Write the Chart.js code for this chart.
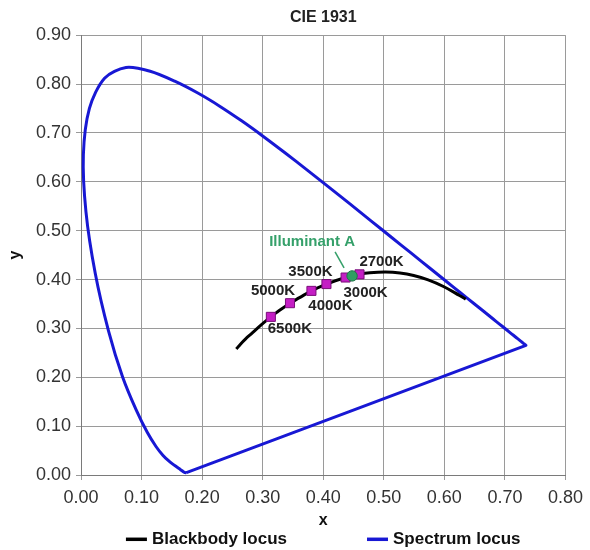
<!DOCTYPE html>
<html><head><meta charset="utf-8">
<script src="https://cdn.jsdelivr.net/npm/chart.js@4/dist/chart.umd.min.js"></script>
<style>html,body{margin:0;padding:0;background:#fff}#wrap{width:590px;height:550px;position:relative}</style>
</head><body><div id="wrap"><canvas id="c"></canvas></div>
<script>
// ---- Data ----
const spectrumX = [0.1741,0.1740,0.1738,0.1736,0.1733,0.1730,0.1726,0.1721,0.1714,0.1703,0.1689,0.1669,0.1644,0.1611,0.1566,0.1510,0.1440,0.1355,0.1241,0.1096,0.0913,0.0687,0.0454,0.0235,0.0082,0.0039,0.0139,0.0389,0.0743,0.1142,0.1547,0.1929,0.2296,0.2658,0.3016,0.3373,0.3731,0.4087,0.4441,0.4788,0.5125,0.5448,0.5752,0.6029,0.6270,0.6482,0.6658,0.6801,0.6915,0.7006,0.7079,0.7140,0.7190,0.7230,0.7260,0.7283,0.7300,0.7311,0.7320,0.7334,0.7344,0.7347,0.1741];
const spectrumY = [0.0050,0.0050,0.0049,0.0049,0.0048,0.0048,0.0048,0.0048,0.0051,0.0058,0.0069,0.0086,0.0109,0.0138,0.0177,0.0227,0.0297,0.0399,0.0578,0.0868,0.1327,0.2007,0.2950,0.4127,0.5384,0.6548,0.7502,0.8120,0.8338,0.8262,0.8059,0.7816,0.7543,0.7243,0.6923,0.6589,0.6245,0.5896,0.5547,0.5202,0.4866,0.4544,0.4242,0.3965,0.3725,0.3514,0.3340,0.3197,0.3083,0.2993,0.2920,0.2859,0.2809,0.2770,0.2740,0.2717,0.2700,0.2689,0.2680,0.2666,0.2656,0.2653,0.0050];

const blackbodyX = [0.2565,0.2637,0.2719,0.2807,0.2952,0.3064,0.3135,0.3221,0.3451,0.3609,0.3805,0.4053,0.4369,0.4599,0.4770,0.5030,0.5267,0.5493,0.5732,0.5985,0.6251,0.6353];
const blackbodyY = [0.2577,0.2683,0.2786,0.2884,0.3048,0.3166,0.3236,0.3318,0.3516,0.3629,0.3768,0.3907,0.4041,0.4106,0.4137,0.4152,0.4133,0.4082,0.3993,0.3858,0.3674,0.3598];

const markerLabels = ['6500K','5000K','4000K','3500K','3000K','2700K'];
const markerX = [0.3135,0.3451,0.3805,0.4053,0.4369,0.4599];
const markerY = [0.3236,0.3516,0.3768,0.3907,0.4041,0.4106];

const illuminantLabel = 'Illuminant A';
const illuminantX = [0.4476];
const illuminantY = [0.4074];

const xTickLabels = ['0.00','0.10','0.20','0.30','0.40','0.50','0.60','0.70','0.80'];
const yTickLabels = ['0.00','0.10','0.20','0.30','0.40','0.50','0.60','0.70','0.80','0.90'];

const legendLabels = ['Blackbody locus','Spectrum locus'];

// ---- Styles / placement (kept apart from data) ----
const FONT = "'Liberation Sans', Arial, Helvetica, sans-serif";
const BLUE = '#1818d4';
const GREEN = '#35a06a';
const markerLabelOffsets = [[19,12],[-17,-12],[19,15],[-16,-12.5],[20,15],[22,-12]];
const illumLabelOffset = [-40,-34];
const illumLeader = [[-17,-24],[-8,-8]];

const toPts = (xs, ys) => xs.map((x, i) => ({x: x, y: ys[i]}));

Chart.defaults.font.family = FONT;

const labelPlugin = {
  id: 'labelPlugin',
  afterDatasetsDraw(chart) {
    const ctx = chart.ctx, sx = chart.scales.x, sy = chart.scales.y;
    ctx.save();
    ctx.textAlign = 'center';
    ctx.textBaseline = 'middle';
    ctx.font = 'bold 15px ' + FONT;
    ctx.fillStyle = '#222';
    markerLabels.forEach((t, i) => {
      const px = sx.getPixelForValue(markerX[i]), py = sy.getPixelForValue(markerY[i]);
      ctx.fillText(t, px + markerLabelOffsets[i][0], py + markerLabelOffsets[i][1]);
    });
    const ix = sx.getPixelForValue(illuminantX[0]), iy = sy.getPixelForValue(illuminantY[0]);
    ctx.fillStyle = GREEN;
    ctx.fillText(illuminantLabel, ix + illumLabelOffset[0], iy + illumLabelOffset[1]);
    ctx.strokeStyle = GREEN;
    ctx.lineWidth = 1.5;
    ctx.beginPath();
    ctx.moveTo(ix + illumLeader[0][0], iy + illumLeader[0][1]);
    ctx.lineTo(ix + illumLeader[1][0], iy + illumLeader[1][1]);
    ctx.stroke();
    ctx.restore();
  }
};

const legendPlugin = {
  id: 'bottomLegend',
  afterDraw(chart) {
    const ctx = chart.ctx, ca = chart.chartArea;
    const colors = ['#000000', BLUE];
    ctx.save();
    ctx.font = 'bold 17px ' + FONT;
    ctx.textBaseline = 'middle';
    ctx.textAlign = 'left';
    const lineLen = 21, gapLT = 5, gapItems = 80;
    const widths = legendLabels.map(t => ctx.measureText(t).width);
    let total = 0;
    widths.forEach((w, i) => { total += lineLen + gapLT + w + (i ? gapItems : 0); });
    let x = (ca.left + ca.right) / 2 - total / 2;
    const y = chart.height - 10.7;
    legendLabels.forEach((t, i) => {
      ctx.strokeStyle = colors[i];
      ctx.lineWidth = 3.5;
      ctx.beginPath();
      ctx.moveTo(x, y);
      ctx.lineTo(x + lineLen, y);
      ctx.stroke();
      ctx.fillStyle = '#111';
      ctx.fillText(t, x + lineLen + gapLT, y + 0.5);
      x += lineLen + gapLT + widths[i] + gapItems;
    });
    ctx.restore();
  }
};

new Chart(document.getElementById('c'), {
  type: 'scatter',
  data: {
    datasets: [
      { label: illuminantLabel, data: toPts(illuminantX, illuminantY), pointStyle: 'circle', pointRadius: 5.2,
        backgroundColor: '#2f9e62', borderColor: '#1d7646', borderWidth: 1, showLine: false, order: 0 },
      { label: 'Temperatures', data: toPts(markerX, markerY), pointStyle: 'rect', pointRadius: 6.4,
        backgroundColor: '#c41ec4', borderColor: '#7a0f7a', borderWidth: 1, showLine: false, order: 1 },
      { label: legendLabels[0], data: toPts(blackbodyX, blackbodyY), showLine: true, pointRadius: 0,
        borderColor: '#000', backgroundColor: '#000', borderWidth: 3, tension: 0.4, order: 2 },
      { label: legendLabels[1], data: toPts(spectrumX, spectrumY), showLine: true, pointRadius: 0,
        borderColor: BLUE, backgroundColor: BLUE, borderWidth: 3, tension: 0.3, order: 3 }
    ]
  },
  options: {
    responsive: true,
    maintainAspectRatio: false,
    animation: false,
    events: [],
    layout: { padding: { left: 0, right: 23, top: 0, bottom: 20 } },
    plugins: {
      legend: { display: false },
      tooltip: { enabled: false },
      title: { display: true, text: 'CIE 1931', fullSize: false, color: '#222',
        font: { size: 16, weight: 'bold', family: FONT }, padding: { top: 8, bottom: 8 } }
    },
    scales: {
      x: {
        type: 'linear', min: 0, max: 0.8,
        afterBuildTicks: s => { s.ticks = xTickLabels.map(t => ({ value: parseFloat(t) })); },
        afterFit: s => { s.height = 55; },
        ticks: { callback: (v, i) => xTickLabels[i], color: '#333', font: { size: 18 }, padding: 7, maxRotation: 0, autoSkip: false },
        grid: { color: '#9a9a9a', lineWidth: 1, tickLength: 5 },
        border: { color: '#7a7a7a', width: 1 },
        title: { display: true, text: 'x', color: '#111', font: { size: 16, weight: 'bold' }, padding: { top: 0, bottom: 0 } }
      },
      y: {
        type: 'linear', min: 0, max: 0.9,
        afterBuildTicks: s => { s.ticks = yTickLabels.map(t => ({ value: parseFloat(t) })); },
        afterFit: s => { s.width = 81; },
        ticks: { callback: (v, i) => yTickLabels[i], color: '#333', font: { size: 18 }, padding: 5, autoSkip: false },
        grid: { color: '#9a9a9a', lineWidth: 1, tickLength: 5 },
        border: { color: '#7a7a7a', width: 1 },
        title: { display: true, text: 'y', color: '#111', font: { size: 16, weight: 'bold' }, padding: { top: 6.4, bottom: 0 } }
      }
    }
  },
  plugins: [labelPlugin, legendPlugin]
});
</script></body></html>
